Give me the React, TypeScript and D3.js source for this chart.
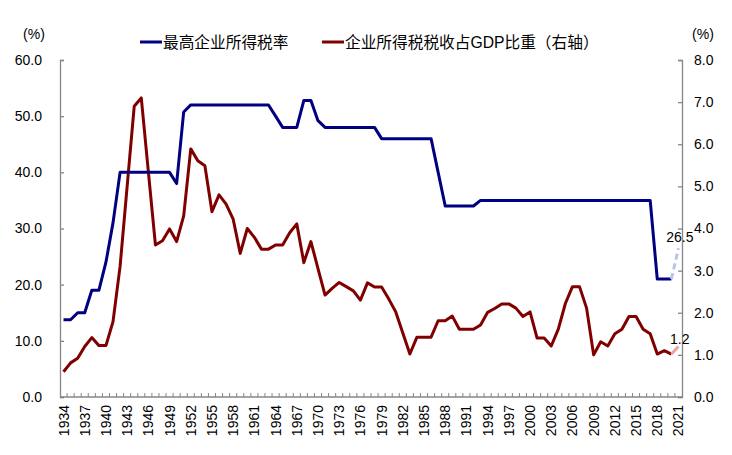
import { useEffect, useRef } from 'react';
import * as d3 from 'd3';

const years = d3.range(1934, 2022).map(String);

// 最高企业所得税率 (%)，左轴
const topRate = [
  13.75, 13.75, 15, 15, 19, 19, 24, 31, 40, 40,
  40, 40, 40, 40, 40, 40, 38, 50.75, 52, 52,
  52, 52, 52, 52, 52, 52, 52, 52, 52, 52,
  50, 48, 48, 48, 52.8, 52.8, 49.2, 48, 48, 48,
  48, 48, 48, 48, 48, 46, 46, 46, 46, 46,
  46, 46, 46, 40, 34, 34, 34, 34, 34, 35,
  35, 35, 35, 35, 35, 35, 35, 35, 35, 35,
  35, 35, 35, 35, 35, 35, 35, 35, 35, 35,
  35, 35, 35, 35, 21, 21, 21, 26.5,
];

// 企业所得税税收占GDP比重 (%)，右轴
const revenueShare = [
  0.6, 0.81, 0.92, 1.2, 1.41, 1.22, 1.22, 1.79, 3.1, 5.0,
  6.9, 7.1, 5.35, 3.61, 3.71, 3.99, 3.69, 4.3, 5.89, 5.61,
  5.49, 4.4, 4.8, 4.58, 4.22, 3.41, 4.0, 3.79, 3.51, 3.51,
  3.61, 3.61, 3.9, 4.11, 3.19, 3.69, 3.05, 2.42, 2.58, 2.72,
  2.62, 2.52, 2.3, 2.71, 2.61, 2.61, 2.33, 2.02, 1.52, 1.02,
  1.42, 1.42, 1.42, 1.81, 1.81, 1.92, 1.61, 1.61, 1.61, 1.71,
  2.01, 2.1, 2.21, 2.21, 2.11, 1.91, 2.02, 1.4, 1.4, 1.21,
  1.61, 2.22, 2.62, 2.62, 2.11, 1.0, 1.31, 1.21, 1.5, 1.61,
  1.91, 1.91, 1.61, 1.5, 1.02, 1.1, 1.02, 1.2,
];

const leftTicks = [0, 10, 20, 30, 40, 50, 60];
const rightTicks = [0, 1, 2, 3, 4, 5, 6, 7, 8];
const legendLabels = ['最高企业所得税率', '企业所得税税收占GDP比重（右轴）'];

const W = 732;
const H = 455;
const FONT = '"Liberation Sans", Arial, "Noto Sans CJK SC", sans-serif';

export default function App() {
  const svgRef = useRef<SVGSVGElement>(null);

  useEffect(() => {
    document.body.style.margin = '0';
    if (!svgRef.current) return;
    const svg = d3.select(svgRef.current);
    svg.selectAll('*').remove();

    const left = 60, right = 682, top = 60, bottom = 397;

    const x = d3.scaleBand<string>().domain(years).range([left, right]).padding(0);
    const cx = (i: number) => (x(years[i]) as number) + x.bandwidth() / 2;
    const yL = d3.scaleLinear().domain([0, 60]).range([bottom, top]);
    const yR = d3.scaleLinear().domain([0, 8]).range([bottom, top]);

    const axisColor = '#868686';

    // 左轴
    const gl = svg.append('g').attr('transform', `translate(${left},0)`)
      .call(d3.axisLeft(yL).tickValues(leftTicks).tickSize(-4).tickPadding(18).tickFormat(d3.format('.1f')));
    // 右轴
    const gr = svg.append('g').attr('transform', `translate(${right},0)`)
      .call(d3.axisRight(yR).tickValues(rightTicks).tickSize(-4).tickPadding(12).tickFormat(d3.format('.1f')));
    [gl, gr].forEach(g => {
      g.select('.domain').attr('stroke', axisColor).attr('stroke-width', 1.3);
      g.selectAll('.tick line').attr('stroke', axisColor).attr('stroke-width', 1.3);
      g.selectAll('.tick text').attr('fill', '#000').style('font-size', '14px').style('font-family', FONT);
    });

    // X 轴
    const gx = svg.append('g').attr('transform', `translate(0,${bottom})`);
    gx.append('line').attr('x1', left).attr('x2', right).attr('stroke', axisColor).attr('stroke-width', 1.3);
    gx.selectAll('.xt')
      .data(years.slice(1))
      .enter()
      .append('line')
      .attr('x1', d => x(d) as number)
      .attr('x2', d => x(d) as number)
      .attr('y1', 0)
      .attr('y2', -4)
      .attr('stroke', axisColor)
      .attr('stroke-width', 1);
    gx.selectAll('.xl')
      .data(years.filter((_, i) => i % 3 === 0))
      .enter()
      .append('text')
      .attr('transform', d => `translate(${(x(d) as number) + x.bandwidth() / 2 + 5},8) rotate(-90)`)
      .attr('text-anchor', 'end')
      .attr('fill', '#000')
      .style('font-size', '14px')
      .style('font-family', FONT)
      .text(d => d);

    const n = years.length;
    const idx = d3.range(n);

    const lineL = d3.line<number>().x(i => cx(i)).y(i => yL(topRate[i]));
    const lineR = d3.line<number>().x(i => cx(i)).y(i => yR(revenueShare[i]));

    // 企业所得税税收占GDP比重
    svg.append('path').datum(idx.slice(0, n - 1))
      .attr('fill', 'none').attr('stroke', '#800000').attr('stroke-width', 3)
      .attr('stroke-linejoin', 'round').attr('d', lineR);
    svg.append('path').datum(idx.slice(n - 2))
      .attr('fill', 'none').attr('stroke', '#e6a3a3').attr('stroke-width', 3)
      .attr('d', lineR);

    // 最高企业所得税率
    svg.append('path').datum(idx.slice(0, n - 1))
      .attr('fill', 'none').attr('stroke', '#000080').attr('stroke-width', 3)
      .attr('stroke-linejoin', 'round').attr('d', lineL);
    svg.append('path').datum(idx.slice(n - 2))
      .attr('fill', 'none').attr('stroke', '#b4c7e7').attr('stroke-width', 3)
      .attr('stroke-dasharray', '6,4').attr('d', lineL);

    // 标注
    svg.append('text')
      .attr('x', cx(n - 1) + 15).attr('y', yL(topRate[n - 1]) - 6)
      .attr('text-anchor', 'end').attr('fill', '#000')
      .style('font-size', '14px').style('font-family', FONT)
      .text(String(topRate[n - 1]));
    svg.append('text')
      .attr('x', cx(n - 1) + 11).attr('y', yR(revenueShare[n - 1]) - 2)
      .attr('text-anchor', 'end').attr('fill', '#000')
      .style('font-size', '14px').style('font-family', FONT)
      .text(revenueShare[n - 1].toFixed(1));

    // 单位
    [[34, 'middle'], [703, 'middle']].forEach(([px, anchor]) => {
      svg.append('text')
        .attr('x', px as number).attr('y', 39)
        .attr('text-anchor', anchor as string).attr('fill', '#000')
        .style('font-size', '14px').style('font-family', FONT)
        .text('(%)');
    });

    // 图例
    const legendX = [140, 322];
    const legendColor = ['#000080', '#800000'];
    legendLabels.forEach((label, i) => {
      svg.append('line')
        .attr('x1', legendX[i]).attr('x2', legendX[i] + 22)
        .attr('y1', 42).attr('y2', 42)
        .attr('stroke', legendColor[i]).attr('stroke-width', 3);
      svg.append('text')
        .attr('x', legendX[i] + 23).attr('y', 47.5)
        .attr('fill', '#000')
        .style('font-size', '15.7px').style('font-family', FONT)
        .text(label);
    });
  }, []);

  return <svg ref={svgRef} width={W} height={H} style={{ display: 'block', background: '#fff' }} />;
}
